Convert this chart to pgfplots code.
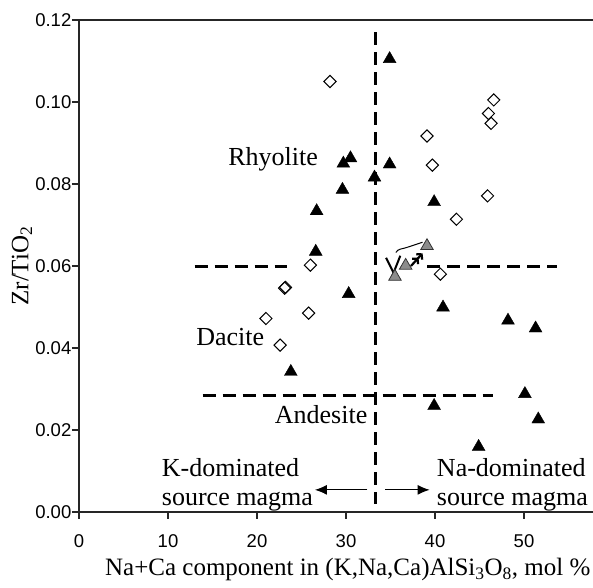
\documentclass[border=0pt]{standalone}
\usepackage{fontspec}
\setmainfont{Liberation Serif}
\setsansfont{Liberation Sans}
\usepackage{pgfplots}
\pgfplotsset{compat=1.18}
\usetikzlibrary{arrows.meta}

\begin{document}
\begin{tikzpicture}
\begin{axis}[
  name=ax,
  scale only axis,
  width=514pt, height=492pt,
  xmin=0, xmax=57.75, ymin=0, ymax=0.12,
  axis x line*=box, axis y line*=left,
  xtick={0,10,20,30,40,50},
  ytick={0,0.02,0.04,0.06,0.08,0.1,0.12},
  xtick pos=left, ytick pos=left,
  tick align=outside,
  major tick length=7pt,
  axis line style={black!85, line width=1.1pt},
  tick style={black!85, line width=1.1pt},
  tick label style={font=\fontsize{18.5}{18.5}\selectfont\sffamily, /pgf/number format/assume math mode=true},
  yticklabel style={inner sep=0.5pt, /pgf/number format/.cd, fixed, fixed zerofill, precision=2},
  xticklabel style={yshift=-12pt},
  scaled y ticks=false,
  xlabel={Na+Ca component in (K,Na,Ca)AlSi\textsubscript{3}O\textsubscript{8}, mol \%},
  xlabel style={font=\fontsize{25}{25}\selectfont, at={(axis description cs:0.523,0)}, anchor=base, yshift=-64pt},
  ylabel={Zr/TiO\textsubscript{2}},
  ylabel style={font=\fontsize{25}{25}\selectfont, at={(axis description cs:-0.111,0.5)}, anchor=center},
  clip=false,
]
% boundary lines
\addplot[black, line width=3pt, dash pattern=on 13pt off 7pt] coordinates {(33.3,0.117) (33.3,0.002)};
\addplot[black, line width=3pt, dash pattern=on 13pt off 7pt] coordinates {(13.0,0.0598) (23.4,0.0598)};
\addplot[black, line width=3pt, dash pattern=on 13pt off 7pt] coordinates {(39.1,0.0598) (53.7,0.0598)};
\addplot[black, line width=3pt, dash pattern=on 13pt off 7pt] coordinates {(13.9,0.0285) (46.5,0.0285)};

% open diamonds
\addplot[only marks, mark=square, mark size=4.3pt, mark options={rotate=45, draw=black, fill=white, line width=1pt}] coordinates {
(28.2,0.105) (46.6,0.1005) (46.0,0.0972) (46.3,0.0948) (39.1,0.0917)
(39.7,0.0846) (45.9,0.0771) (42.4,0.0714) (40.6,0.0580) (26.0,0.0602)
(23.1,0.0546) (23.2,0.0548) (21.0,0.0472) (25.8,0.0485) (22.6,0.0407)
};

% black triangles
\addplot[only marks, mark=triangle*, mark size=7.4pt, mark options={fill=black, draw=black}] coordinates {
(34.9,0.1105) (29.7,0.0850) (30.5,0.0863) (34.9,0.0848) (33.2,0.0816)
(29.6,0.0786) (39.9,0.0756) (26.7,0.0734) (26.6,0.0635) (23.8,0.0342)
(30.3,0.0532) (40.9,0.0499) (48.2,0.0467) (51.3,0.0448) (50.1,0.0288)
(39.9,0.0259) (51.6,0.0226) (44.9,0.0159)
};

% grey triangles
\addplot[only marks, mark=triangle*, mark size=7.2pt, mark options={fill=black!45, draw=black!80, line width=0.8pt}] coordinates {
(39.1,0.0649) (36.7,0.0601) (35.5,0.0574)
};

\draw[black, line width=1pt] (axis cs:35.6,0.0633) to[out=60, in=200] (axis cs:36.8,0.0645) -- (axis cs:38.6,0.0658);
\draw[black, line width=2pt] (axis cs:34.5,0.0620) -- (axis cs:35.7,0.0568);
\draw[black, line width=2pt] (axis cs:36.1,0.0625) -- (axis cs:35.1,0.0570);
\draw[black, line width=2.2pt, -{Straight Barb[length=3.5pt,width=8pt] Straight Barb[length=3.5pt,width=8pt]}] (axis cs:37.3,0.0600) -- (axis cs:38.6,0.0631);

% direction arrows
\draw[black, line width=1.2pt, -{Latex[length=12pt,width=10pt]}] (axis cs:32.4,0.0054) -- (axis cs:26.5,0.0054);
\draw[black, line width=1.2pt, -{Latex[length=12pt,width=10pt]}] (axis cs:34.4,0.0054) -- (axis cs:39.4,0.0054);

% field names
\node[font=\fontsize{26}{26}\selectfont, anchor=base] at (axis cs:21.8,0.0844) {Rhyolite};
\node[font=\fontsize{26}{26}\selectfont, anchor=base] at (axis cs:17.0,0.0407) {Dacite};
\node[font=\fontsize{26}{26}\selectfont, anchor=base] at (axis cs:27.2,0.0217) {Andesite};
\node[font=\fontsize{26}{26}\selectfont, anchor=base west, inner sep=0pt] at (axis cs:9.3,0.0086) {K-dominated};
\node[font=\fontsize{26}{26}\selectfont, anchor=base west, inner sep=0pt] at (axis cs:9.3,0.0017) {source magma};
\node[font=\fontsize{26}{26}\selectfont, anchor=base west, inner sep=0pt] at (axis cs:40.2,0.0086) {Na-dominated};
\node[font=\fontsize{26}{26}\selectfont, anchor=base west, inner sep=0pt] at (axis cs:40.2,0.0017) {source magma};
\end{axis}
\pgfresetboundingbox
\path[use as bounding box] ([xshift=-79pt,yshift=-76pt]ax.south west) rectangle ([yshift=20pt]ax.north east);
\end{tikzpicture}
\end{document}
